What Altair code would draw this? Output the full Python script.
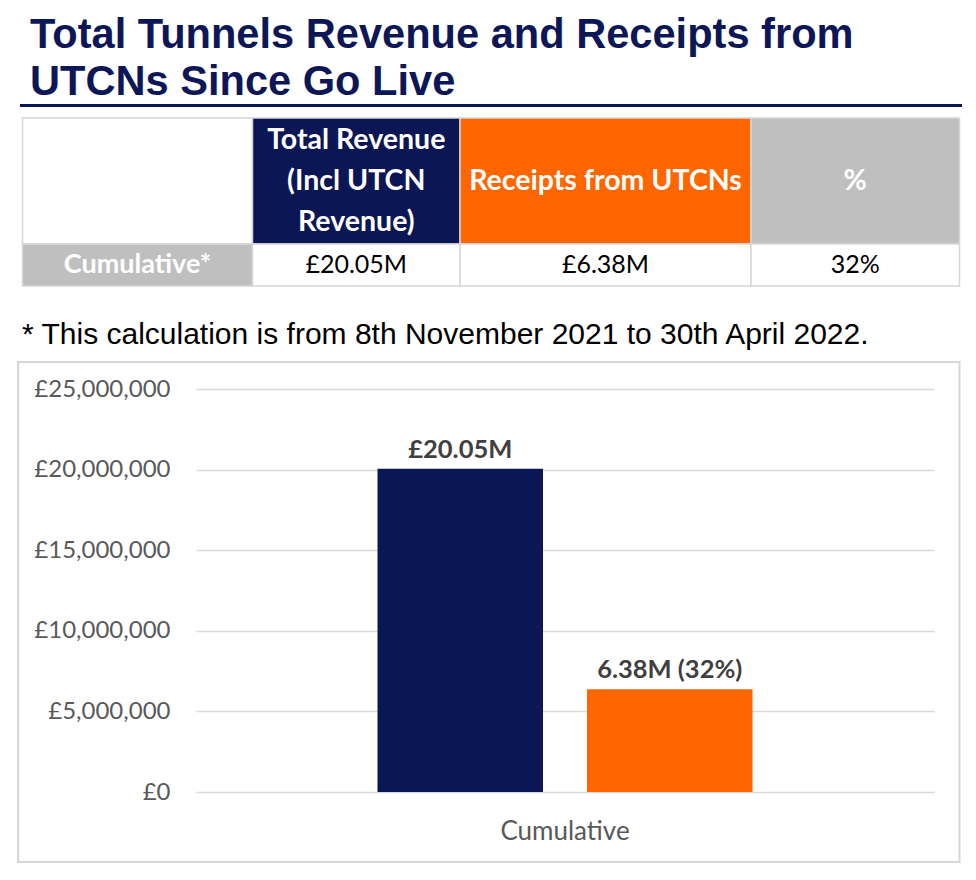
import altair as alt
import pandas as pd

# ---------------- data ----------------
title_lines = ["Total Tunnels Revenue and Receipts from", "UTCNs Since Go Live"]
footnote = "* This calculation is from 8th November 2021 to 30th April 2022."

header_texts = [[""], ["Total Revenue", "(Incl UTCN", "Revenue)"], ["Receipts from UTCNs"], ["%"]]
row_texts = ["Cumulative*", "£20.05M", "£6.38M", "32%"]

category = ["Cumulative", "Cumulative"]
series = ["Total Revenue (Incl UTCN Revenue)", "Receipts from UTCNs"]
values = [20050000, 6380000]
bar_labels = ["£20.05M", "6.38M (32%)"]
y_ticks = [0, 5000000, 10000000, 15000000, 20000000, 25000000]

NAVY = "#0b1654"
ORANGE = "#ff6600"
GREY = "#bfbfbf"
BORDER = "#d6d6d6"
FONT_C = "Lato"
FONT_A = "Liberation Sans"

# ---------------- layout (pixels relative to plot origin) ----------------
W, H = 738, 403
col_edges = [-173.5, 56.5, 264, 555, 763.5]
row_edges = [-271, -145, -103]
header_fills = ["#ffffff", NAVY, ORANGE, GREY]
row_fills = [GREY, "#ffffff", "#ffffff", "#ffffff"]
row_text_colors = ["#ffffff", "#000000", "#000000", "#000000"]
row_text_weights = ["bold", "normal", "normal", "normal"]
row_text_sizes = [27, 25, 25, 25]
line_step = 41

cells = []
for i in range(4):
    cells.append({"x": col_edges[i], "x2": col_edges[i + 1], "y": row_edges[0], "y2": row_edges[1], "fill": header_fills[i]})
    cells.append({"x": col_edges[i], "x2": col_edges[i + 1], "y": row_edges[1], "y2": row_edges[2], "fill": row_fills[i]})
cells_df = pd.DataFrame(cells)

htext = []
for i, lines in enumerate(header_texts):
    n = len(lines)
    cy = (row_edges[0] + row_edges[1]) / 2
    for j, t in enumerate(lines):
        htext.append({"x": (col_edges[i] + col_edges[i + 1]) / 2,
                      "y": cy + (j - (n - 1) / 2) * line_step, "t": t})
htext_df = pd.DataFrame(htext)

rtext_df = pd.DataFrame({
    "x": [(col_edges[i] + col_edges[i + 1]) / 2 for i in range(4)],
    "y": [(row_edges[1] + row_edges[2]) / 2] * 4,
    "t": row_texts,
    "c": row_text_colors,
})

bars_df = pd.DataFrame({"category": category, "series": series, "value": values, "label": bar_labels})
one = alt.Data(values=[{"a": 1}])

# ---------------- decorations ----------------
box = alt.Chart(one).mark_rect(fillOpacity=0, stroke=BORDER, strokeWidth=2).encode(
    x=alt.value(-178), x2=alt.value(763.5), y=alt.value(-27), y2=alt.value(473)
)

title = alt.Chart(one).mark_text(
    font=FONT_A, fontSize=41.6, fontWeight="bold", color="#0d1757",
    align="left", baseline="alphabetic", lineHeight=47
).encode(x=alt.value(-166), y=alt.value(-341), text=alt.value(title_lines))

underline = alt.Chart(one).mark_rule(color=NAVY, strokeWidth=3).encode(
    x=alt.value(-176), x2=alt.value(766), y=alt.value(-283.5)
)

cell_rects = alt.Chart(cells_df).mark_rect(stroke=BORDER, strokeWidth=1.5).encode(
    x=alt.X("x:Q", scale=None, axis=None), x2="x2:Q",
    y=alt.Y("y:Q", scale=None, axis=None), y2="y2:Q",
    fill=alt.Fill("fill:N", scale=None),
)

header_text = alt.Chart(htext_df).mark_text(
    font=FONT_C, fontSize=28.5, fontWeight="bold", color="#ffffff", baseline="middle"
).encode(
    x=alt.X("x:Q", scale=None, axis=None), y=alt.Y("y:Q", scale=None, axis=None), text="t:N"
)

row_layers = []
for i in range(4):
    sub = rtext_df.iloc[[i]]
    row_layers.append(
        alt.Chart(sub).mark_text(
            font=FONT_C, fontSize=row_text_sizes[i], fontWeight=row_text_weights[i], baseline="middle"
        ).encode(
            x=alt.X("x:Q", scale=None, axis=None), y=alt.Y("y:Q", scale=None, axis=None), text="t:N",
            color=alt.Color("c:N", scale=None),
        )
    )

foot = alt.Chart(one).mark_text(
    font=FONT_A, fontSize=30, color="#000000", align="left", baseline="alphabetic"
).encode(x=alt.value(-174), y=alt.value(-45), text=alt.value(footnote))

# ---------------- bar chart ----------------
base = alt.Chart(bars_df).encode(
    x=alt.X("category:N", title=None,
            scale=alt.Scale(paddingInner=0, paddingOuter=0.484),
            axis=alt.Axis(labelAngle=0, ticks=False, domain=False, labelFont=FONT_C,
                          labelFontSize=26, labelColor="#595959", labelPadding=26)),
    xOffset=alt.XOffset("series:N", sort=series, scale=alt.Scale(paddingInner=0.21, paddingOuter=0)),
    y=alt.Y("value:Q", title=None,
            scale=alt.Scale(domain=[0, 25000000], nice=False),
            axis=alt.Axis(values=y_ticks, labelExpr="'£' + format(datum.value, ',')",
                          ticks=False, domain=False, labelFont=FONT_C, labelFontSize=24,
                          labelColor="#595959", labelPadding=26, gridColor="#d9d9d9",
                          gridWidth=1.5)),
)

bars = base.mark_bar().encode(
    color=alt.Color("series:N", sort=series, scale=alt.Scale(domain=series, range=[NAVY, ORANGE]), legend=None)
)

labels = base.mark_text(
    font=FONT_C, fontSize=25.5, fontWeight="bold", color="#404040", baseline="alphabetic", dy=-11
).encode(text="label:N")

chart = alt.layer(
    box, title, underline, cell_rects, header_text, *row_layers, foot, bars, labels
).properties(
    width=W, height=H,
    background="#ffffff",
    autosize=alt.AutoSizeParams(type="none"),
    padding={"left": 188, "top": 381, "right": 32, "bottom": 76},
).configure_view(strokeWidth=0, stroke="transparent")

chart.save("out.html", embed_options={"renderer": "svg", "actions": False})
